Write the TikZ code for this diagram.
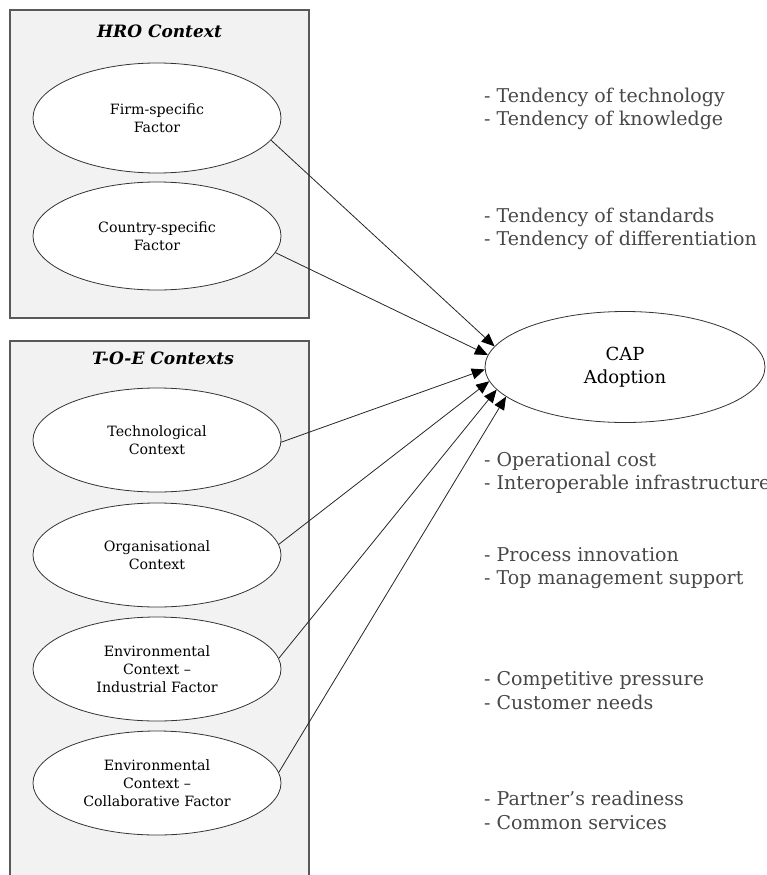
\documentclass[tikz,border=0pt]{standalone}
\usepackage{fontspec}
\setmainfont{DejaVu Serif}
\usetikzlibrary{shapes.geometric,arrows.meta}
\begin{document}
\begin{tikzpicture}[x=1pt,y=-1pt,
  ctxbox/.style={draw=black!65,fill=black!5,line width=1.3pt},
  boxtitle/.style={font=\fontsize{17}{20}\selectfont\bfseries\itshape},
  factor/.style={ellipse,draw=black!80,fill=white,line width=0.8pt,minimum width=248pt,minimum height=104pt,align=center,inner sep=0pt,font=\fontsize{14.2}{18}\selectfont},
  target/.style={ellipse,draw=black!80,fill=white,line width=0.8pt,minimum width=280pt,minimum height=111pt,align=center,inner sep=0pt,font=\fontsize{18}{23}\selectfont},
  note/.style={anchor=west,align=left,inner sep=0pt,text=black!72,font=\fontsize{19}{23.5}\selectfont},
  arr/.style={draw=black!85,line width=0.8pt,-{Triangle[length=13pt,width=11pt,color=black]}}
]
\useasboundingbox (0,0) rectangle (766,875);
\path[ctxbox] (10,10) rectangle (309,318);
\path[ctxbox] (10,341) rectangle (309,900);
\node[boxtitle] (hro) at (159.5,31) {HRO Context};
\node[boxtitle] (toe) at (163,358) {T-O-E Contexts};

\node[factor,minimum height=110pt] (firm) at (157,118) {Firm-specific\\Factor};
\node[factor,minimum height=108pt] (country) at (157,236) {Country-specific\\Factor};
\node[factor] (tech) at (157,440) {Technological\\Context};
\node[factor] (org) at (157,555) {Organisational\\Context};
\node[factor] (envi) at (157,669) {Environmental\\Context –\\Industrial Factor};
\node[factor] (envc) at (157,783) {Environmental\\Context –\\Collaborative Factor};

\node[target] (cap) at (625,367) {CAP\\Adoption};

\draw[arr] (firm.-11) -- (cap.171.6);
\draw[arr] (country.-8) -- (cap.175);
\draw[arr] (tech.-1) -- (cap.181);
\draw[arr] (org.5) -- (cap.186);
\draw[arr] (envi.5) -- (cap.190);
\draw[arr] (envc.5) -- (cap.194);

\node[note] (n1) at (484,109) {- Tendency of technology\\- Tendency of knowledge};
\node[note] (n2) at (484,229) {- Tendency of standards\\- Tendency of differentiation};
\node[note] (n3) at (484,473) {- Operational cost\\- Interoperable infrastructure};
\node[note] (n4) at (484,568) {- Process innovation\\- Top management support};
\node[note] (n5) at (484,690.5) {- Competitive pressure\\- Customer needs};
\node[note] (n6) at (484,810.5) {- Partner’s readiness\\- Common services};
\end{tikzpicture}
\end{document}
